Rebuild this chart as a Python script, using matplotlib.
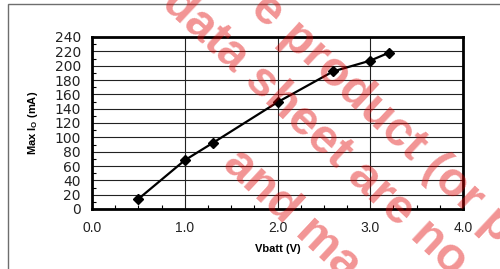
import matplotlib.pyplot as plt
from matplotlib.patches import Rectangle
from matplotlib.ticker import MultipleLocator

# values
vbatt = [0.5, 1.0, 1.3, 2.0, 2.6, 3.0, 3.2]
max_io = [14, 68, 92, 149, 192, 207, 218]

x_ticks = [0.0, 1.0, 2.0, 3.0, 4.0]
x_labels = ["0.0", "1.0", "2.0", "3.0", "4.0"]
y_ticks = list(range(0, 241, 20))

watermark = ["e product (or p", "data sheet are no", "and ma"]

W, H = 500, 269
fig = plt.figure(figsize=(W / 100, H / 100), dpi=100)
fig.patch.set_facecolor("white")


def fx(px):
    return px / W


def fy(py):
    return 1 - py / H


# outer chart frame (runs off the right and bottom edge)
fig.patches.append(Rectangle((fx(8), -0.1), 1.2, fy(4) + 0.1, transform=fig.transFigure,
                             fill=False, edgecolor="#6e6e6e", linewidth=1.0))

ax = fig.add_axes([fx(92), fy(209), fx(463) - fx(92), fy(37) - fy(209)])
ax.plot(vbatt, max_io, color="black", linewidth=1.6, marker="D", markersize=5.5,
        markerfacecolor="black", markeredgecolor="black", zorder=3)

ax.set_xlim(0, 4)
ax.set_ylim(0, 240)
ax.set_xticks(x_ticks)
ax.set_xticklabels(x_labels, family="Liberation Sans", fontsize=10, color="#222222")
ax.set_yticks(y_ticks)
ax.set_yticklabels([str(v) for v in y_ticks], family="DejaVu Sans", fontsize=10, color="#222222")
ax.xaxis.set_minor_locator(MultipleLocator(0.25))
ax.yaxis.set_minor_locator(MultipleLocator(10))
ax.tick_params(axis="both", which="major", length=0)
ax.tick_params(axis="x", which="major", pad=9)
ax.tick_params(axis="y", which="major", pad=8)
ax.tick_params(axis="both", which="minor", direction="in", length=3, width=0.8)

ax.grid(True, which="major", color="#222222", linewidth=0.8)
ax.set_axisbelow(True)
for side in ax.spines.values():
    side.set_linewidth(2.0)
    side.set_color("black")

ax.set_xlabel("Vbatt (V)", family="Liberation Sans", fontsize=8, fontweight="bold", labelpad=6)
ax.set_ylabel(r"Max I$_\mathregular{O}$ (mA)", family="Liberation Sans", fontsize=8,
              fontweight="bold", labelpad=10)

# red watermark lying across the plot
spots = [(383, 118), (315, 132), (292, 215)]
for line, (px, py) in zip(watermark, spots):
    fig.text(fx(px), fy(py), line, rotation=-43, rotation_mode="anchor",
             ha="center", va="center", fontsize=35, fontweight="bold",
             family="Liberation Sans", color="#e00000", alpha=0.42, zorder=10)

fig.savefig("out.png", dpi=100)
